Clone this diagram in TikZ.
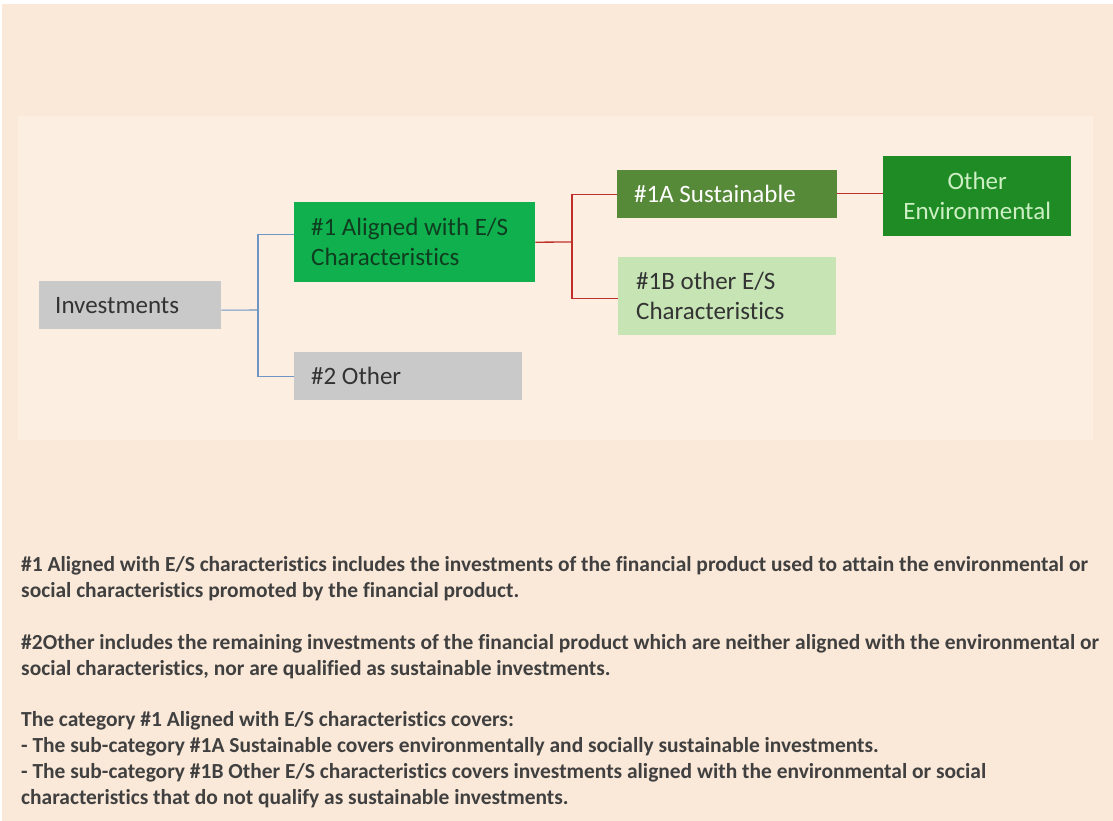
\documentclass[tikz,border=0pt]{standalone}
\usepackage{fontspec}
\setmainfont{Carlito}[Ligatures=NoCommon]
\definecolor{outerbg}{HTML}{FAE8D8}
\definecolor{innerbg}{HTML}{FDEEE2}
\definecolor{boxgray}{HTML}{C9C9C9}
\definecolor{greenA}{HTML}{10B04E}
\definecolor{greenS}{HTML}{568A38}
\definecolor{greenE}{HTML}{1F8B25}
\definecolor{greenB}{HTML}{C6E4B4}
\definecolor{lineblue}{HTML}{6E95C4}
\definecolor{linered}{HTML}{C0302A}
\definecolor{txtdark}{HTML}{333333}
\definecolor{txtgreen}{HTML}{0F3D1F}
\definecolor{txtlight}{HTML}{CDEFC4}
\definecolor{notetxt}{HTML}{404040}
\tikzset{
  catbox/.style={rectangle, anchor=north west, inner ysep=0pt, align=flush left,
    font=\fontsize{25}{30}\selectfont},
  bluelink/.style={draw=lineblue, line width=1.1pt},
  redlink/.style={draw=linered, line width=1.3pt},
  note/.style={anchor=base west, inner sep=0pt, text width=1090pt, align=flush left,
    text=notetxt, font=\fontsize{21.45}{26}\selectfont\bfseries}
}
\begin{document}
\begin{tikzpicture}[x=1pt,y=-1pt]
\useasboundingbox (0,0) rectangle (1113,821);
\fill[white] (0,0) rectangle (1113,821);
\fill[outerbg] (2,4) rectangle (1113,821);
\fill[innerbg] (18,116) rectangle (1093,440);

\node[catbox, fill=boxgray, text=txtdark, minimum width=182pt, minimum height=48pt,
  inner xsep=16pt, text width=150pt] (inv) at (39,281) {Investments};
\node[catbox, fill=greenA, text=txtgreen, minimum width=241pt, minimum height=80pt,
  inner xsep=17pt, text width=207pt] (a1) at (294,202) {\#1 Aligned with E/S\\Characteristics};
\node[catbox, fill=boxgray, text=txtdark, minimum width=228pt, minimum height=48pt,
  inner xsep=17pt, text width=194pt] (oth) at (294,352) {\#2 Other};
\node[catbox, fill=greenS, text=white, minimum width=220pt, minimum height=48pt,
  inner xsep=17pt, text width=186pt] (sust) at (617,170) {\#1A Sustainable};
\node[catbox, fill=greenB, text=txtdark, minimum width=218pt, minimum height=78pt,
  inner xsep=18pt, text width=182pt] (b1) at (618,257) {\#1B other E/S\\Characteristics};
\node[catbox, fill=greenE, text=txtlight, minimum width=188pt, minimum height=80pt,
  inner xsep=10pt, text width=168pt, align=center] (oe) at (883,156) {Other\\Environmental};

\coordinate (bj) at (258,310);
\coordinate (rj) at (572,242);
\draw[bluelink] ([yshift=-5pt]inv.east) -- (bj);
\draw[bluelink] ([yshift=8pt]a1.west) -| (bj) |- (oth.west);
\draw[redlink] (a1.east) -- (rj);
\draw[redlink] (sust.west) -| (rj) |- ([yshift=-2pt]b1.west);
\draw[redlink] ([yshift=1pt]sust.east) -- ([yshift=1pt]sust.east -| oe.west);

\node[note] (p1) at (21,571.7) {\#1 Aligned with E/S characteristics includes the investments of the financial product used to attain the environmental or\\social characteristics promoted by the financial product.};
\node[note] (p2) at (21,649.3) {\#2Other includes the remaining investments of the financial product which are neither aligned with the environmental or\\social characteristics, nor are qualified as sustainable investments.};
\node[note] (p3) at (21,726) {The category \#1 Aligned with E/S characteristics covers:\\- The sub-category \#1A Sustainable covers environmentally and socially sustainable investments.\\- The sub-category \#1B Other E/S characteristics covers investments aligned with the environmental or social\\characteristics that do not qualify as sustainable investments.};
\end{tikzpicture}
\end{document}
